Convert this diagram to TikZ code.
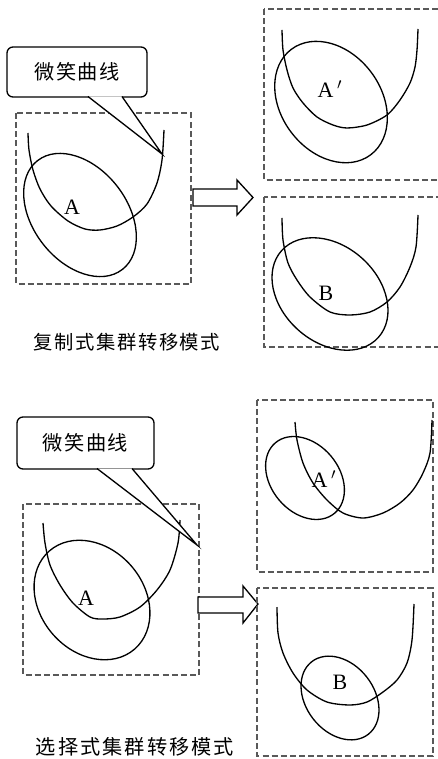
\documentclass[tikz,border=0pt]{standalone}
\usepackage{fontspec}
\setmainfont{Liberation Serif}
\newfontfamily\cjk{Noto Sans CJK SC}
\begin{document}
\begin{tikzpicture}[x=0.02cm, y=0.02cm,
    panel/.style={draw=black!65, line width=0.65pt, dash pattern=on 3.4pt off 1.8pt},
    smile/.style={line width=0.75pt},
    blob/.style={line width=0.75pt},
    callout/.style={draw, line width=0.75pt, rounded corners=0.12cm, minimum height=1cm,
      inner sep=0pt, font=\cjk\addfontfeature{LetterSpace=7}\fontsize{11.5}{13}\selectfont},
    letter/.style={inner sep=0pt, font=\fontsize{12.5}{14}\selectfont},
    caption/.style={inner sep=0pt, font=\cjk\addfontfeature{LetterSpace=8}\fontsize{11}{13}\selectfont},
    blockarrow/.style={draw, line width=0.75pt, fill=white}]
  \useasboundingbox (0,0) rectangle (437,-759);

  % copy mode, left
  \draw[panel] (16,-113) rectangle (191,-284);
  \draw[smile] plot[smooth] coordinates {(28,-133) (29,-150) (33,-170) (40,-189) (51,-206)
    (68,-221) (85,-229) (100,-230) (117,-226) (133,-217) (147,-204) (157,-183) (162,-160)
    (164,-130)};
  \coordinate (eA) at (80,-215);
  \draw[blob, rotate around={-52:(eA)}] (eA) ellipse [x radius=69, y radius=47];
  \node[letter] (labA) at (72,-207) {A};
  \node[callout, minimum width=2.8cm] (callA) at (77,-72) {微笑曲线\hspace{0.32cm}};
  \coordinate (tailA1) at (88,-96.5);
  \coordinate (tailA2) at (122,-96.5);
  \coordinate (tipA) at (162,-154);
  \fill[white] (tailA1) -- (tipA) -- (tailA2) -- cycle;
  \draw[line width=0.75pt] (tailA1) -- (tipA) -- (tailA2);
  \draw[blockarrow] (193,-189) -- (237,-189) -- (237,-180) -- (253,-197.5) -- (237,-215)
    -- (237,-206) -- (193,-206) -- cycle;
  \node[caption] (capA) at (127,-342) {复制式集群转移模式};

  % copy mode, right
  \draw[panel] (264,-9) rectangle (445,-180);
  \draw[smile] plot[smooth] coordinates {(282,-30) (283,-50) (287,-70) (293,-88) (303,-103)
    (317,-117) (333,-125) (347,-128) (367,-125) (387,-115) (400,-100) (410,-83) (415,-67)
    (417,-50) (418,-29)};
  \coordinate (eA1) at (331,-102);
  \draw[blob, rotate around={-53:(eA1)}] (eA1) ellipse [x radius=66, y radius=50];
  \node[letter] (labA1) at (330,-89) {A$\,'$};

  \draw[panel] (264,-197) rectangle (445,-347);
  \draw[smile] plot[smooth] coordinates {(282,-218) (283,-240) (288,-263) (297,-280)
    (310,-297) (330,-312) (350,-315) (370,-312) (387,-302) (400,-287) (410,-267)
    (416,-247) (418,-215)};
  \coordinate (eB1) at (330,-294);
  \draw[blob, rotate around={-42:(eB1)}] (eB1) ellipse [x radius=65, y radius=48];
  \node[letter] (labB1) at (326,-293) {B};

  % selective mode, left
  \draw[panel] (23,-504) rectangle (199,-675);
  \draw[smile] plot[smooth] coordinates {(43,-523) (45,-543) (50,-565) (60,-585) (73,-603)
    (90,-617) (103,-619) (120,-617) (140,-607) (157,-590) (170,-570) (178,-543) (180,-520)};
  \coordinate (eA2) at (92,-600);
  \draw[blob, rotate around={-49:(eA2)}] (eA2) ellipse [x radius=65, y radius=52];
  \node[letter] (labA2) at (86,-598) {A};
  \node[callout, minimum width=2.74cm, minimum height=1.04cm] (callB) at (85.5,-443)
    {微笑曲线\hspace{0.34cm}};
  \coordinate (tailB1) at (97,-468.5);
  \coordinate (tailB2) at (132,-468.5);
  \coordinate (tipB) at (197,-545);
  \fill[white] (tailB1) -- (tipB) -- (tailB2) -- cycle;
  \draw[line width=0.75pt] (tailB1) -- (tipB) -- (tailB2);
  \draw[blockarrow] (198,-597) -- (243,-597) -- (243,-586) -- (258,-604) -- (243,-623)
    -- (243,-613) -- (198,-613) -- cycle;
  \node[caption, font=\cjk\addfontfeature{LetterSpace=10}\fontsize{11.5}{13}\selectfont]
    (capB) at (135,-747) {选择式集群转移模式};

  % selective mode, right
  \draw[panel] (257,-400) rectangle (433,-572);
  \draw[smile] plot[smooth] coordinates {(295,-422) (297,-440) (303,-463) (313,-483)
    (327,-500) (343,-513) (363,-518) (383,-513) (400,-503) (413,-490) (423,-473)
    (430,-453) (432,-420)};
  \coordinate (eA3) at (305,-478);
  \draw[blob, rotate around={-50:(eA3)}] (eA3) ellipse [x radius=46, y radius=34];
  \node[letter] (labA3) at (324,-479) {A$\,'$};

  \draw[panel] (257,-588) rectangle (433,-756);
  \draw[smile] plot[smooth] coordinates {(277,-607) (278,-633) (283,-653) (293,-673)
    (307,-690) (327,-702) (350,-705) (367,-702) (383,-692) (397,-680) (407,-663)
    (412,-640) (414,-604)};
  \coordinate (eB3) at (340,-698);
  \draw[blob, rotate around={-52:(eB3)}] (eB3) ellipse [x radius=46, y radius=34];
  \node[letter] (labB3) at (340,-682) {B};
\end{tikzpicture}
\end{document}
